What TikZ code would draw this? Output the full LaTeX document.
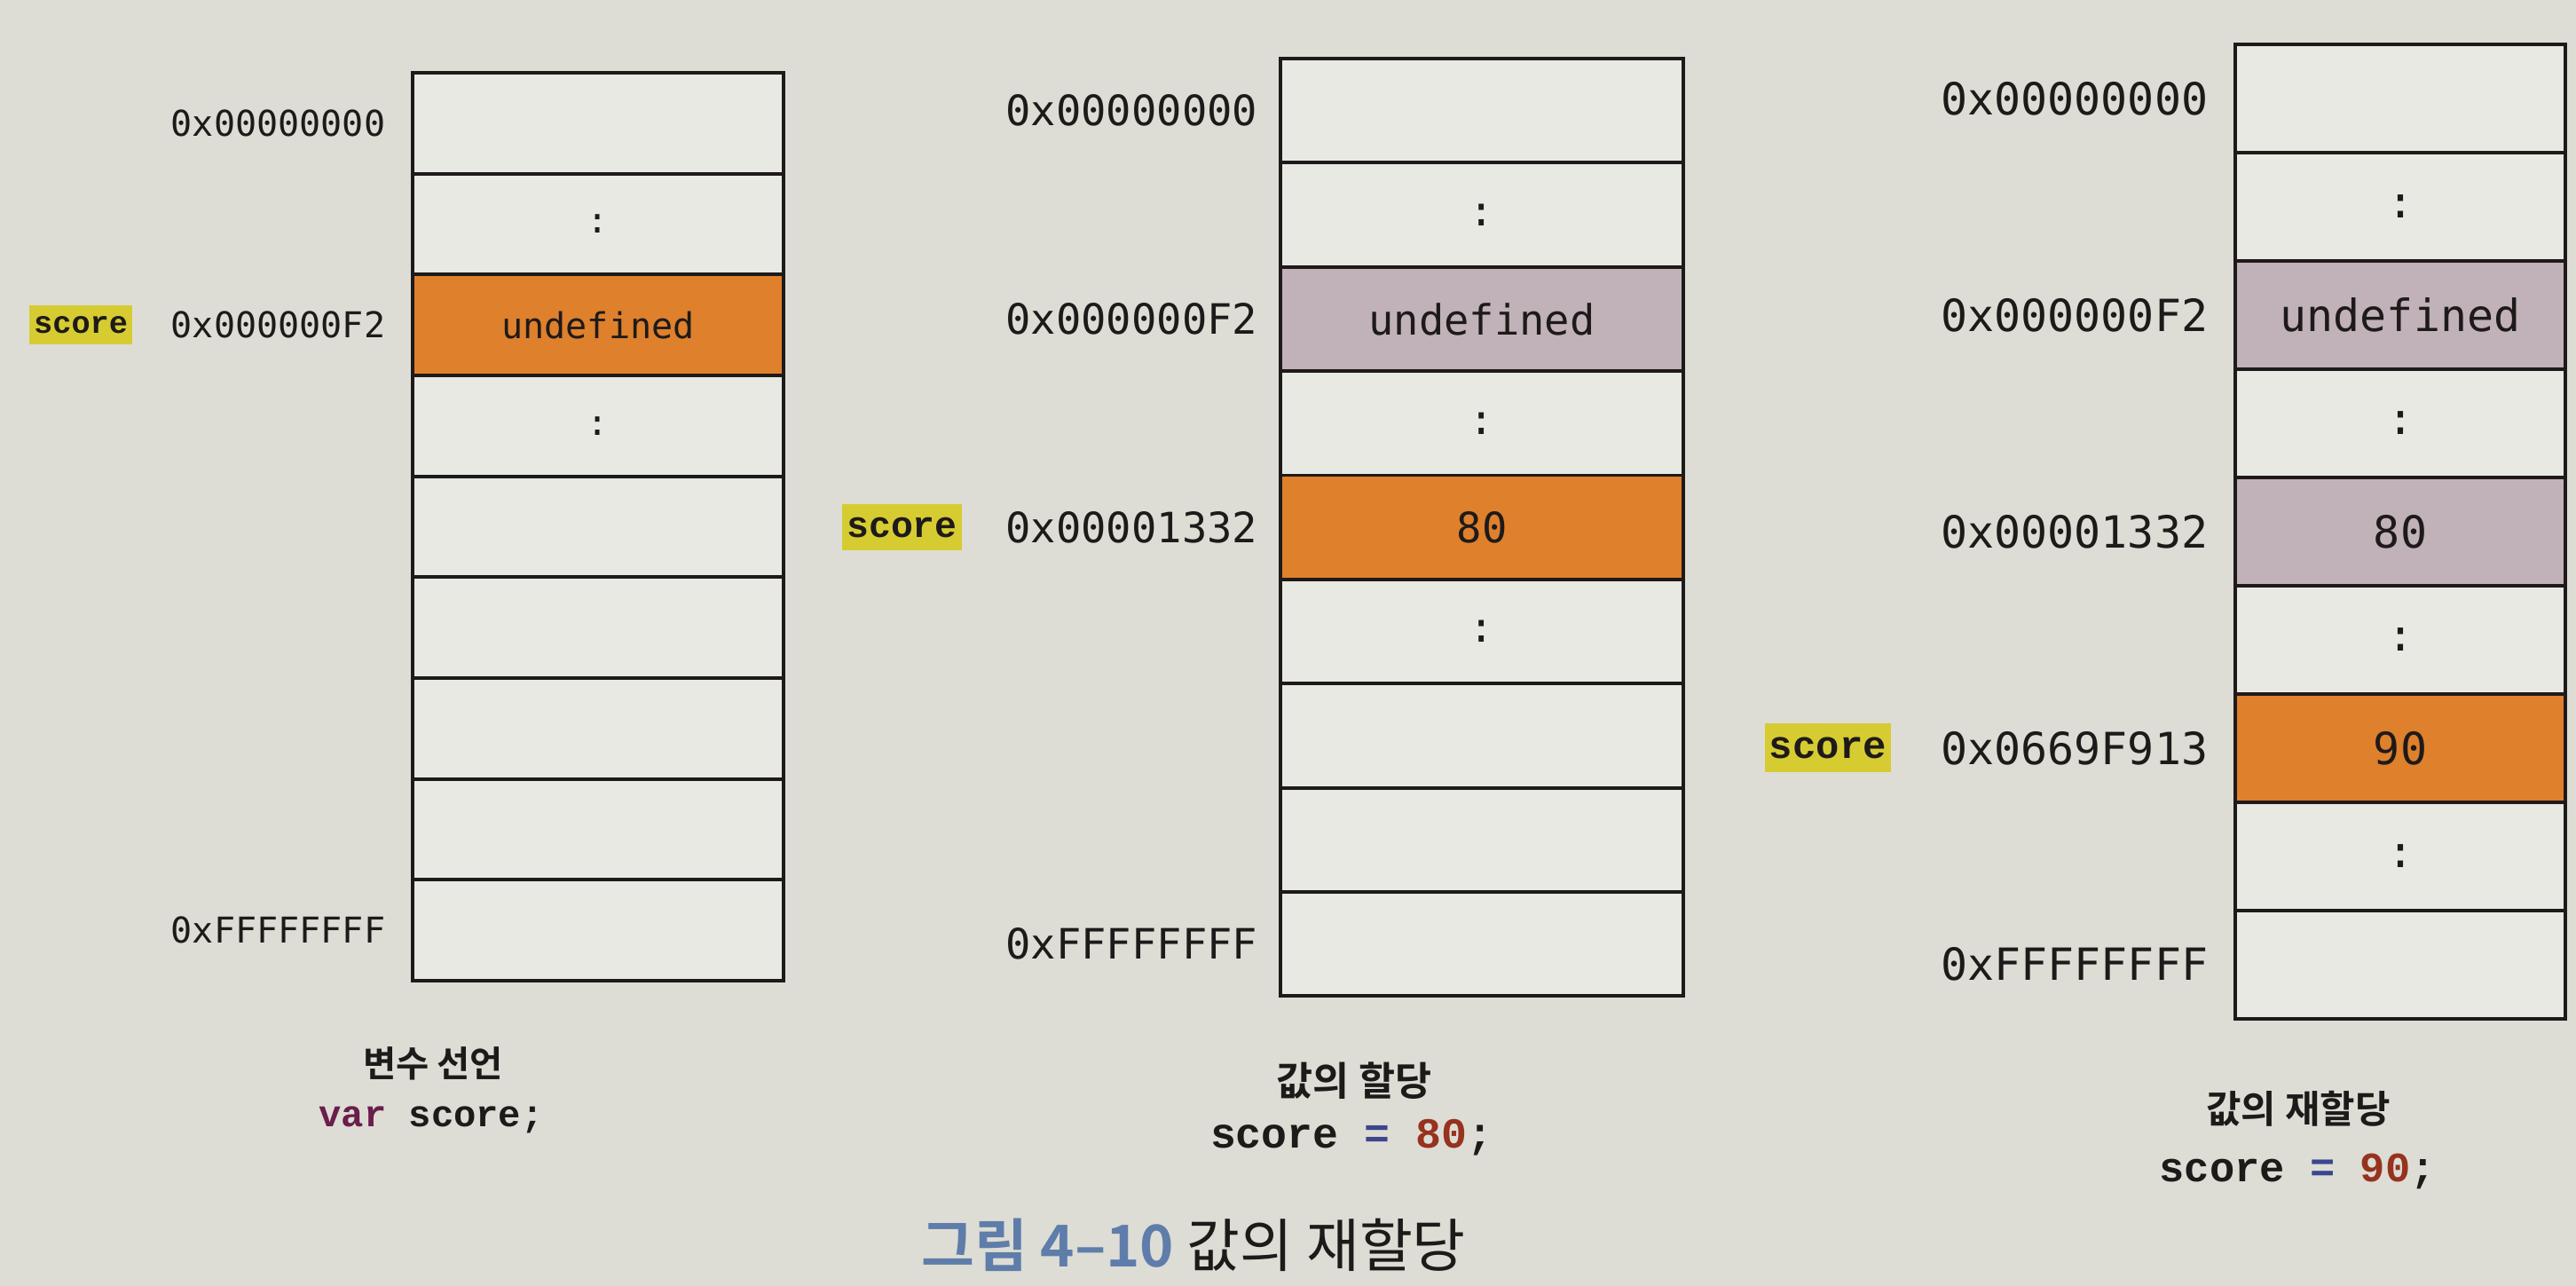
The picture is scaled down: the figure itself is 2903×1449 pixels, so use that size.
\documentclass[tikz,border=0pt]{standalone}
\usepackage{fontspec}
\setmainfont{Liberation Sans}
\newfontfamily\krfont{Noto Sans CJK KR}[BoldFont={Noto Sans CJK KR Bold}]
\newfontfamily\addrfont{DejaVu Sans Mono}
\newfontfamily\codefont{Liberation Mono}
\usetikzlibrary{positioning}

\definecolor{paper}{RGB}{221,221,213}
\definecolor{cellbg}{RGB}{233,233,228}
\definecolor{ink}{RGB}{30,26,26}
\definecolor{hot}{RGB}{222,128,44}
\definecolor{old}{RGB}{192,178,184}
\definecolor{hilite}{RGB}{214,204,50}
\definecolor{kwpurple}{RGB}{105,30,75}
\definecolor{opblue}{RGB}{60,70,140}
\definecolor{numred}{RGB}{150,50,30}
\definecolor{capblue}{RGB}{95,125,170}

\begin{document}
\begin{tikzpicture}[x=0.01cm, y=-0.01cm,
  cell/.style={draw=ink, line width=1.1pt, outer sep=0pt, inner sep=0pt, fill=cellbg,
    minimum width=\cw, minimum height=\ch, text=ink, font=\addrfont\fontsize{\sz}{\sz}\selectfont},
  addr/.style={inner sep=0pt, text=ink, font=\addrfont\fontsize{\sz}{\sz}\selectfont},
  varbox/.style={fill=hilite, inner xsep=1.5pt, inner ysep=0pt, minimum height={1.1*\sz pt},
    text=ink, font=\codefont\bfseries\fontsize{\fpeval{0.88*\sz}}{\sz}\selectfont},
  kor/.style={text=ink, font=\krfont\bfseries\fontsize{#1}{#1}\selectfont},
  snippet/.style={text=ink, font=\codefont\bfseries\fontsize{#1}{#1}\selectfont},
]
\fill[paper] (0,0) rectangle (2903,1449);
\useasboundingbox (0,0) rectangle (2903,1449);

% declaration
\begin{scope}
\def\sz{11.4}\def\cw{4.18cm}\def\ch{1.136cm}
\node[cell] (a1) at (674,138.8) {};
\node[cell, below=0pt of a1] (a2) {:};
\node[cell, fill=hot, below=0pt of a2] (a3) {undefined};
\node[cell, below=0pt of a3] (a4) {:};
\node[cell, below=0pt of a4] (a5) {};
\node[cell, below=0pt of a5] (a6) {};
\node[cell, below=0pt of a6] (a7) {};
\node[cell, below=0pt of a7] (a8) {};
\node[cell, below=0pt of a8] (a9) {};
\node[addr, left=0.3cm of a1] (a1l) {0x00000000};
\node[addr, left=0.3cm of a3] (a3l) {0x000000F2};
\node[addr, left=0.3cm of a9] (a9l) {0xFFFFFFFF};
\node[varbox, left=0.42cm of a3l] (av) {score};
\end{scope}

% assignment
\begin{scope}
\def\sz{13.4}\def\cw{4.54cm}\def\ch{1.173cm}
\node[cell] (b1) at (1670,124.7) {};
\node[cell, below=0pt of b1] (b2) {:};
\node[cell, fill=old, below=0pt of b2] (b3) {undefined};
\node[cell, below=0pt of b3] (b4) {:};
\node[cell, fill=hot, below=0pt of b4] (b5) {80};
\node[cell, below=0pt of b5] (b6) {:};
\node[cell, below=0pt of b6] (b7) {};
\node[cell, below=0pt of b7] (b8) {};
\node[cell, below=0pt of b8] (b9) {};
\node[addr, left=0.25cm of b1] (b1l) {0x00000000};
\node[addr, left=0.25cm of b3] (b3l) {0x000000F2};
\node[addr, left=0.25cm of b5] (b5l) {0x00001332};
\node[addr, left=0.25cm of b9] (b9l) {0xFFFFFFFF};
\node[varbox, left=0.48cm of b5l] (bv) {score};
\end{scope}

% reassignment
\begin{scope}
\def\sz{14.2}\def\cw{3.72cm}\def\ch{1.219cm}
\node[cell] (c1) at (2705,111) {};
\node[cell, below=0pt of c1] (c2) {:};
\node[cell, fill=old, below=0pt of c2] (c3) {undefined};
\node[cell, below=0pt of c3] (c4) {:};
\node[cell, fill=old, below=0pt of c4] (c5) {80};
\node[cell, below=0pt of c5] (c6) {:};
\node[cell, fill=hot, below=0pt of c6] (c7) {90};
\node[cell, below=0pt of c7] (c8) {:};
\node[cell, below=0pt of c8] (c9) {};
\node[addr, left=0.3cm of c1] (c1l) {0x00000000};
\node[addr, left=0.3cm of c3] (c3l) {0x000000F2};
\node[addr, left=0.3cm of c5] (c5l) {0x00001332};
\node[addr, left=0.3cm of c7] (c7l) {0x0669F913};
\node[addr, left=0.3cm of c9] (c9l) {0xFFFFFFFF};
\node[varbox, left=0.55cm of c7l] (cv) {score};
\end{scope}

% captions
\node[kor=11.5] (k1) at (488,1198) {변수 선언};
\node[snippet=12] (s1) at (486,1262) {{\color{kwpurple}var} score;};
\node[kor=12.7] (k2) at (1526,1218) {값의 할당};
\node[snippet=13.7] (s2) at (1523,1282) {score {\color{opblue}=} {\color{numred}80};};
\node[kor=12.2] (k3) at (2590,1249) {값의 재할당};
\node[snippet=13.4] (s3) at (2589,1320) {score {\color{opblue}=} {\color{numred}90};};

\node[text=ink, font=\krfont\fontsize{18.5}{21}\selectfont] (fig) at (1345,1403)
  {{\color{capblue}\bfseries 그림 4–10} 값의 재할당};
\end{tikzpicture}
\end{document}
